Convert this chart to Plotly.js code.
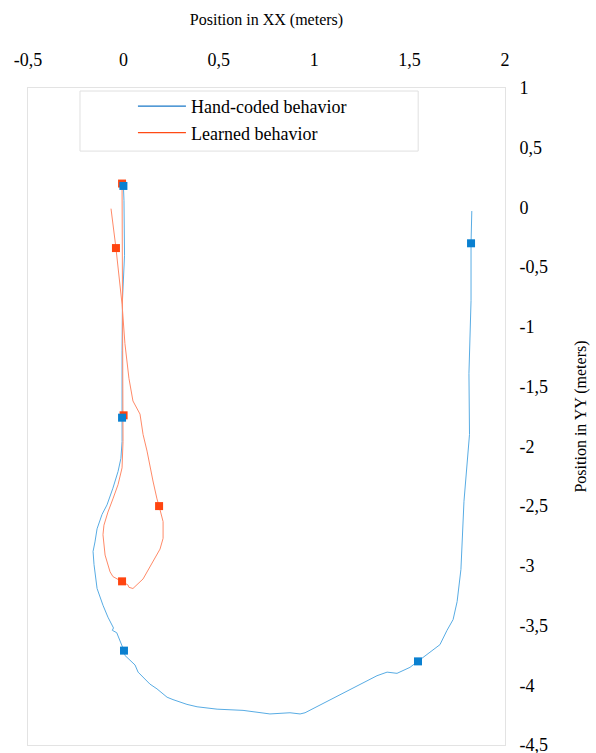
<!DOCTYPE html>
<html>
<head>
<meta charset="utf-8">
<script src="https://cdn.plot.ly/plotly-3.0.1.min.js"></script>
<style>html,body{margin:0;padding:0;background:#fff;}#chart{width:596px;height:753px;}</style>
</head>
<body>
<div id="chart"></div>
<script>
// Hand-coded behavior trajectory (meters)
const handX = [0.00, 0.003, 0.006, -0.005, -0.007, -0.007, -0.007, -0.013, -0.028, -0.055, -0.086, -0.112, -0.138, -0.149, -0.159, -0.154, -0.138, -0.107, -0.081, -0.052, -0.058, -0.035, -0.007, 0.003, 0.008, 0.061, 0.077, 0.139, 0.176, 0.229, 0.260, 0.333, 0.386, 0.491, 0.627, 0.768, 0.873, 0.926, 0.952, 1.083, 1.240, 1.329, 1.382, 1.434, 1.502, 1.544, 1.570, 1.659, 1.696, 1.728, 1.749, 1.769, 1.785, 1.814, 1.811, 1.822, 1.822, 1.826];
const handY = [0.18, 0.06, -0.40, -0.78, -1.20, -1.76, -1.96, -2.10, -2.21, -2.35, -2.49, -2.57, -2.69, -2.80, -2.88, -2.99, -3.19, -3.33, -3.43, -3.52, -3.54, -3.56, -3.66, -3.71, -3.75, -3.83, -3.89, -3.99, -4.03, -4.10, -4.12, -4.16, -4.18, -4.20, -4.21, -4.24, -4.23, -4.24, -4.23, -4.12, -3.99, -3.92, -3.89, -3.90, -3.85, -3.80, -3.77, -3.66, -3.54, -3.45, -3.30, -3.03, -2.46, -1.90, -1.39, -0.78, -0.30, -0.03];
// Learned behavior trajectory (meters)
const learnedX = [-0.007, -0.005, -0.002, 0.001, -0.002, -0.007, -0.028, -0.055, -0.081, -0.102, -0.107, -0.096, -0.070, -0.055, -0.007, 0.024, 0.029, 0.050, 0.103, 0.155, 0.192, 0.208, 0.208, 0.187, 0.176, 0.155, 0.139, 0.124, 0.103, 0.087, 0.050, 0.029, 0.008, -0.007, -0.039, -0.065];
const learnedY = [0.20, -0.36, -1.20, -1.74, -1.96, -2.18, -2.32, -2.44, -2.55, -2.66, -2.74, -2.91, -3.05, -3.09, -3.13, -3.16, -3.18, -3.19, -3.11, -2.97, -2.86, -2.77, -2.63, -2.50, -2.44, -2.29, -2.15, -2.04, -1.90, -1.73, -1.62, -1.43, -1.14, -0.81, -0.34, -0.01];
// Sample markers along each trajectory
const handMarkX = [0.00, -0.007, 0.003, 1.544, 1.822];
const handMarkY = [0.18, -1.76, -3.71, -3.80, -0.30];
const learnedMarkX = [-0.007, 0.001, -0.007, 0.187, -0.039];
const learnedMarkY = [0.20, -1.74, -3.13, -2.50, -0.34];
const seriesNames = ['Hand-coded behavior', 'Learned behavior'];
// Tick labels
const xTickVals = [-0.5, 0, 0.5, 1, 1.5, 2];
const xTickText = ['-0,5', '0', '0,5', '1', '1,5', '2'];
const yTickVals = [1, 0.5, 0, -0.5, -1, -1.5, -2, -2.5, -3, -3.5, -4, -4.5];
const yTickText = ['1', '0,5', '0', '-0,5', '-1', '-1,5', '-2', '-2,5', '-3', '-3,5', '-4', '-4,5'];

const serif = 'Times New Roman, Liberation Serif, DejaVu Serif, serif';
const traces = [
  {x: handX, y: handY, mode: 'lines', name: seriesNames[0], legendgroup: 'a', showlegend: false,
   line: {color: '#58ACE4', width: 1}},
  {x: learnedX, y: learnedY, mode: 'lines', name: seriesNames[1], legendgroup: 'b', showlegend: false,
   line: {color: '#FF8A68', width: 1}},
  {x: learnedMarkX, y: learnedMarkY, mode: 'markers', showlegend: false, hoverinfo: 'skip',
   marker: {symbol: 'square', size: 8, color: '#FF4510'}},
  {x: handMarkX, y: handMarkY, mode: 'markers', showlegend: false, hoverinfo: 'skip',
   marker: {symbol: 'square', size: 8, color: '#0A80D0'}},
  {x: [null], y: [null], mode: 'lines', name: seriesNames[0], legendgroup: 'a',
   line: {color: '#1A78C8', width: 1.3}},
  {x: [null], y: [null], mode: 'lines', name: seriesNames[1], legendgroup: 'b',
   line: {color: '#FF4A14', width: 1.3}}
];

const layout = {
  width: 596, height: 753,
  margin: {l: 28, r: 91, t: 88, b: 8},
  paper_bgcolor: '#fff', plot_bgcolor: '#fff',
  separators: ', ',
  font: {family: serif, color: '#000', size: 18},
  showlegend: true,
  legend: {x: 0.22, y: 1.0, xanchor: 'left', yanchor: 'top', bgcolor: 'rgba(0,0,0,0)',
           borderwidth: 0, font: {family: serif, size: 18, color: '#000'},
           traceorder: 'grouped', tracegroupgap: 0, itemwidth: 48},
  shapes: [
    {type: 'rect', xref: 'paper', yref: 'paper', x0: 0.109, x1: 0.818, y0: 0.904, y1: 0.9954,
     line: {color: '#e0e0e0', width: 1}, fillcolor: '#fff', layer: 'above'}
  ],
  xaxis: {
    range: [-0.5, 2], side: 'top', tickmode: 'array', tickvals: xTickVals, ticktext: xTickText,
    showgrid: false, zeroline: false, showline: true, mirror: true, linecolor: '#e3e3e3', linewidth: 1,
    ticks: '', ticklabelstandoff: 14, ticklabeloverflow: 'allow',
    tickfont: {family: serif, size: 18, color: '#000'},
    title: {text: 'Position in XX (meters)', font: {family: serif, size: 16, color: '#000'}, standoff: 20}
  },
  yaxis: {
    range: [-4.5, 1], side: 'right', tickmode: 'array', tickvals: yTickVals, ticktext: yTickText,
    showgrid: false, zeroline: false, showline: true, mirror: true, linecolor: '#e3e3e3', linewidth: 1,
    ticks: '', ticklabelstandoff: 10, ticklabeloverflow: 'allow',
    tickfont: {family: serif, size: 18, color: '#000'},
    title: {text: 'Position in YY (meters)', font: {family: serif, size: 16, color: '#000'}, standoff: 27}
  }
};

Plotly.newPlot('chart', traces, layout, {displayModeBar: false, staticPlot: true});
</script>
</body>
</html>
